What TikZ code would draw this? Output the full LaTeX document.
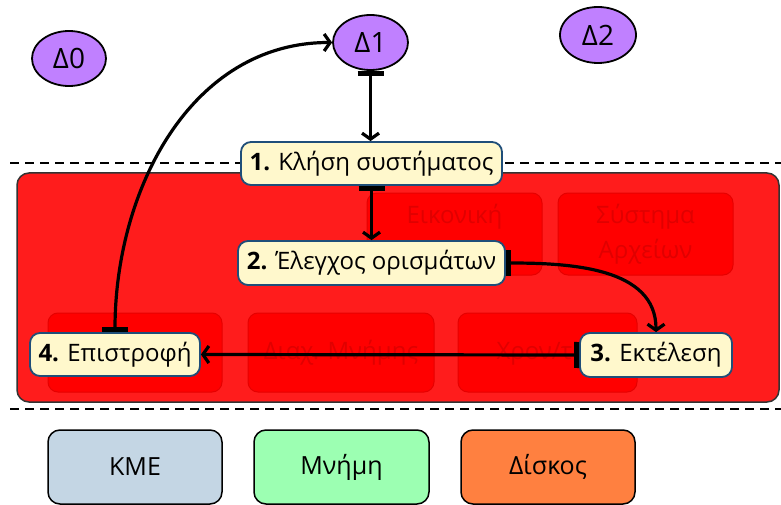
\documentclass[tikz,border=0pt]{standalone}
\usepackage{fontspec}
\setmainfont{Open Sans}
\usetikzlibrary{shapes.geometric,arrows.meta}
\definecolor{redouter}{HTML}{FF1C1C}
\definecolor{redinner}{HTML}{FF0000}
\definecolor{rededge}{HTML}{E60000}
\definecolor{redtext}{HTML}{E00000}
\definecolor{cream}{HTML}{FFF8CC}
\definecolor{navyedge}{HTML}{1F4E79}
\definecolor{purplefill}{HTML}{C080FF}
\definecolor{kmefill}{HTML}{C4D6E4}
\definecolor{memfill}{HTML}{9CFFB2}
\definecolor{diskfill}{HTML}{FF8040}
\begin{document}
\begin{tikzpicture}[x=1pt,y=-1pt,
  bigfont/.style={font=\fontsize{24}{35}\selectfont},
  dashline/.style={draw=black,line width=2pt,dash pattern=on 9pt off 6pt},
  outerbox/.style={draw=black!80,line width=1.5pt,fill=redouter,rounded corners=12pt,inner sep=0pt},
  innerbox/.style={draw=rededge,line width=1pt,fill=redinner,rounded corners=10pt,inner sep=0pt,minimum height=79pt,text=redtext,align=center,bigfont},
  stepnode/.style={draw=navyedge,line width=1.8pt,fill=cream,rounded corners=10pt,inner sep=0pt,minimum height=43pt,bigfont},
  domainnode/.style={ellipse,draw=black,line width=1.8pt,fill=purplefill,inner sep=0pt,minimum width=75pt,minimum height=55pt,font=\fontsize{28}{32}\selectfont},
  hwbox/.style={draw=black,line width=1.5pt,rounded corners=12pt,inner sep=0pt,minimum width=174pt,minimum height=74pt,font=\fontsize{25}{30}\selectfont},
  flow/.style={line width=3.2pt,{Bar[width=26pt,line width=5pt]}-{Straight Barb[length=6pt,width=17pt]}}
]
\useasboundingbox (0,0) rectangle (781,505);

% dashed separators
\draw[dashline] (10,163) -- (781,163);
\draw[dashline] (10,409) -- (781,409);

% kernel area
\node[outerbox,minimum width=762pt,minimum height=229pt] (kernel) at (398,287.5) {};
\node[innerbox,minimum width=175pt,minimum height=82pt] (vm) at (454.5,234) {};
\node[text=redtext,bigfont] (vmlabel) at (454.5,217) {Εικονική};
\node[innerbox,minimum width=175pt,minimum height=82pt] (fs) at (645.5,234) {Σύστημα\\Αρχείων};
\node[innerbox,minimum width=174pt] (pm) at (135,352.5) {};
\node[innerbox,minimum width=186pt] (mm) at (341,352.5) {Διαχ. Μνήμης};
\node[innerbox,minimum width=179pt] (sch) at (547.5,352.5) {Χρον/τής};

% domains
\node[domainnode,minimum width=74pt] (d0) at (69,58.5) {Δ0};
\node[domainnode] (d1) at (370.5,42.5) {Δ1};
\node[domainnode,minimum width=76pt,minimum height=56pt] (d2) at (598,35) {Δ2};

% steps
\node[stepnode,minimum width=261pt] (n1) at (371.5,163.5) {\textbf{1.} Κλήση συστήματος};
\node[stepnode,minimum width=267pt,minimum height=44pt] (n2) at (371.5,263) {\textbf{2.} Έλεγχος ορισμάτων};
\node[stepnode,minimum width=152pt,minimum height=44pt] (n3) at (656,355) {\textbf{3.} Εκτέλεση};
\node[stepnode,minimum width=170pt] (n4) at (115,354.5) {\textbf{4.} Επιστροφή};

% hardware
\node[hwbox,fill=kmefill] (cpu) at (135,467) {ΚΜΕ};
\node[hwbox,fill=memfill,minimum width=175pt] (mem) at (341.5,467) {Μνήμη};
\node[hwbox,fill=diskfill] (disk) at (548,467) {Δίσκος};

% flow
\draw[flow] (d1.south) -- (d1.south |- n1.north);
\draw[flow] (n1.south) -- (n2.north);
\draw[flow] (n2.east) to[out=0,in=90] (n3.north);
\draw[flow] (n3.west) -- (n4.east);
\draw[flow] (n4.north) to[out=90,in=180] (d1.west);
\end{tikzpicture}
\end{document}
